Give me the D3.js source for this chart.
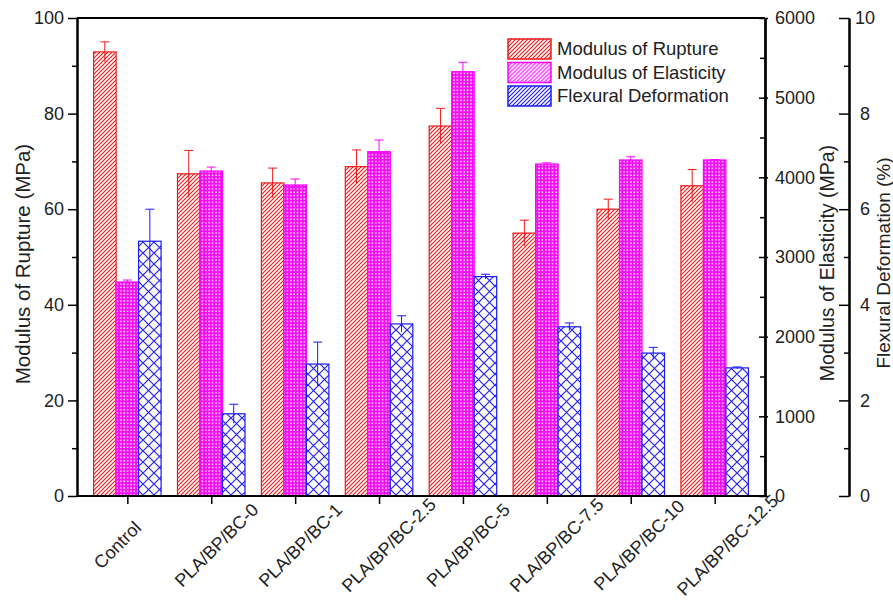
<!DOCTYPE html>
<html>
<head>
<meta charset="utf-8">
<script src="https://cdn.jsdelivr.net/npm/d3@7"></script>
<style>
	body { margin: 0; background: #fff; }
	svg { font-family: "Liberation Sans", Arial, sans-serif; }
</style>
</head>
<body>
<svg id="chart" width="893" height="602"></svg>
<script>
// data
var categories = ["Control", "PLA/BP/BC-0", "PLA/BP/BC-1", "PLA/BP/BC-2.5",
				  "PLA/BP/BC-5", "PLA/BP/BC-7.5", "PLA/BP/BC-10", "PLA/BP/BC-12.5"];
var rupture = [92.9, 67.4, 65.5, 68.9, 77.4, 55.0, 60.0, 64.9];
var ruptureErr = [2.1, 4.9, 3.1, 3.5, 3.7, 2.7, 2.1, 3.4];
var elasticity = [2686, 4079, 3904, 4322, 5326, 4167, 4218, 4218];
var elasticityErr = [25, 50, 75, 147, 118, 15, 40, 5];
var deformation = [5.33, 1.72, 2.76, 3.60, 4.59, 3.54, 2.99, 2.68];
var deformationErr = [0.67, 0.20, 0.46, 0.17, 0.05, 0.08, 0.12, 0.02];
var seriesNames = ["Modulus of Rupture", "Modulus of Elasticity", "Flexural Deformation"];
var ruptureTicks = [0, 20, 40, 60, 80, 100];
var elasticityTicks = [0, 1000, 2000, 3000, 4000, 5000, 6000];
var deformationTicks = [0, 2, 4, 6, 8, 10];

var margins = { top: 18, left: 77, right: 128, bottom: 106 };
var width = 893, height = 602;
var plotRight = width - margins.right;   // 765
var plotBottom = height - margins.bottom; // 496

var svg = d3.select("#chart");

// hatch patterns
var defs = svg.append("defs");
var hatch = (id, color) => {
	var p = defs.append("pattern").attr("id", id)
		.attr("patternUnits", "userSpaceOnUse")
		.attr("width", 4).attr("height", 4);
	p.append("rect").attr("width", 4).attr("height", 4).attr("fill", "#fff");
	p.append("path").attr("d", "M-1,1 l2,-2 M0,4 l4,-4 M3,5 l2,-2")
		.attr("stroke", color).attr("stroke-width", 1.1);
};
hatch("hatchRed", "#f01818");
hatch("hatchMag", "#ff00ff");
hatch("hatchBlue", "#1a1aff");

var dots = defs.append("pattern").attr("id", "dotsMag")
	.attr("patternUnits", "userSpaceOnUse")
	.attr("width", 3.4).attr("height", 3.4);
dots.append("rect").attr("width", 3.4).attr("height", 3.4).attr("fill", "#f20cf2");
dots.append("rect").attr("x", 1.1).attr("y", 1.1).attr("width", 1.5).attr("height", 1.5).attr("fill", "#ffe6ff");

var cross = defs.append("pattern").attr("id", "crossBlue")
	.attr("patternUnits", "userSpaceOnUse")
	.attr("width", 11).attr("height", 11);
cross.append("rect").attr("width", 11).attr("height", 11).attr("fill", "#fffdf2");
cross.append("path").attr("d", "M0,0 L11,11 M11,0 L0,11")
	.attr("stroke", "#2424ff").attr("stroke-width", 1.2);

// scales
var x = d3.scalePoint()
	.domain(categories)
	.range([margins.left, plotRight])
	.padding(0.6);

var sub = d3.scaleBand()
	.domain([0, 1, 2])
	.range([-33.75, 33.75]);

var yRupture = d3.scaleLinear().domain([0, 100]).range([plotBottom, margins.top]);
var yElastic = d3.scaleLinear().domain([0, 6000]).range([plotBottom, margins.top]);
var yDeform = d3.scaleLinear().domain([0, 10]).range([plotBottom, margins.top]);

var series = [
	{ values: rupture, errs: ruptureErr, y: yRupture, color: "#f01818", fill: "url(#hatchRed)", legend: "url(#hatchRed)" },
	{ values: elasticity, errs: elasticityErr, y: yElastic, color: "#ff00ff", fill: "url(#dotsMag)", legend: "url(#hatchMag)" },
	{ values: deformation, errs: deformationErr, y: yDeform, color: "#1a1aff", fill: "url(#crossBlue)", legend: "url(#hatchBlue)" }
];

// bars + error bars
series.forEach((s, si) => {
	var g = svg.append("g");
	g.selectAll("rect")
		.data(categories)
		.enter()
		.append("rect")
		.attr("x", (d) => x(d) + sub(si))
		.attr("y", (d, i) => s.y(s.values[i]))
		.attr("width", sub.bandwidth())
		.attr("height", (d, i) => plotBottom - s.y(s.values[i]))
		.attr("fill", s.fill)
		.attr("stroke", s.color)
		.attr("stroke-width", 1.2);

	var eb = svg.append("g").attr("stroke", s.color).attr("stroke-width", 1);
	eb.selectAll("line.v")
		.data(categories)
		.enter()
		.append("line")
		.attr("class", "v")
		.attr("x1", (d) => x(d) + sub(si) + sub.bandwidth() / 2)
		.attr("x2", (d) => x(d) + sub(si) + sub.bandwidth() / 2)
		.attr("y1", (d, i) => s.y(s.values[i] - s.errs[i]))
		.attr("y2", (d, i) => s.y(s.values[i] + s.errs[i]));
	eb.selectAll("line.cap")
		.data(categories)
		.enter()
		.append("line")
		.attr("class", "cap")
		.attr("x1", (d) => x(d) + sub(si) + sub.bandwidth() / 2 - 4.5)
		.attr("x2", (d) => x(d) + sub(si) + sub.bandwidth() / 2 + 4.5)
		.attr("y1", (d, i) => s.y(s.values[i] + s.errs[i]))
		.attr("y2", (d, i) => s.y(s.values[i] + s.errs[i]));
});

//
//	axes
//
var styleAxis = (g) => {
	g.select(".domain").attr("stroke", "#000").attr("stroke-width", 2);
	g.selectAll(".tick line").attr("stroke", "#000").attr("stroke-width", 1.5);
	g.selectAll(".tick text").attr("fill", "#222").style("font-size", "18px");
};

// minor ticks first, then major with labels
svg.append("g").attr("transform", `translate(${margins.left},0)`)
	.call(d3.axisLeft(yRupture).tickValues(d3.range(10, 100, 20)).tickSize(5).tickFormat("").tickSizeOuter(0))
	.call(styleAxis);
svg.append("g").attr("transform", `translate(${margins.left},0)`)
	.call(d3.axisLeft(yRupture).tickValues(ruptureTicks).tickSize(9).tickPadding(4).tickSizeOuter(0))
	.call(styleAxis);

svg.append("g").attr("transform", `translate(${plotRight},0)`)
	.call(d3.axisLeft(yElastic).tickValues(d3.range(500, 6000, 1000)).tickSize(5).tickFormat("").tickSizeOuter(0))
	.call(styleAxis);
svg.append("g").attr("transform", `translate(${plotRight},0)`)
	.call(d3.axisRight(yElastic).tickValues(elasticityTicks).tickSize(3).tickPadding(7).tickFormat(d3.format("d")).tickSizeOuter(0))
	.call(styleAxis);
svg.append("g").attr("transform", `translate(${plotRight},0)`)
	.call(d3.axisLeft(yElastic).tickValues(elasticityTicks).tickSize(6).tickFormat("").tickSizeOuter(0))
	.call(styleAxis);

var axis2X = 849;
svg.append("g").attr("transform", `translate(${axis2X},0)`)
	.call(d3.axisLeft(yDeform).tickValues(d3.range(1, 10, 2)).tickSize(5).tickFormat("").tickSizeOuter(0))
	.call(styleAxis);
var defAxis = svg.append("g").attr("transform", `translate(${axis2X},0)`)
	.call(d3.axisLeft(yDeform).tickValues(deformationTicks).tickSize(10).tickSizeOuter(0))
	.call(styleAxis);
defAxis.selectAll(".tick text").attr("text-anchor", "middle").attr("x", 16);

// top frame line
svg.append("g").attr("transform", `translate(0,${margins.top})`)
	.call(d3.axisTop(x).tickValues([]).tickSizeOuter(0))
	.call(styleAxis)
	.select(".domain").attr("d", `M${margins.left},0H${plotRight}`);

// bottom axis with rotated labels
var xAxis = svg.append("g").attr("transform", `translate(0,${plotBottom})`)
	.call(d3.axisBottom(x).tickSize(8).tickSizeOuter(0))
	.call(styleAxis);
xAxis.select(".domain").attr("d", `M${margins.left},0H${plotRight}`);
xAxis.selectAll(".tick text")
	.attr("text-anchor", "middle")
	.attr("y", 0).attr("dy", "0.35em")
	.each(function () {
		var len = this.getComputedTextLength();
		d3.select(this).attr("transform", `translate(${0.3 * len - 28},49) rotate(-45)`);
	});

// axis titles
var title = (txt, tx, ty, size) => svg.append("text")
	.attr("transform", `translate(${tx},${ty}) rotate(-90)`)
	.attr("text-anchor", "middle")
	.attr("dy", "0.35em")
	.style("font-size", size)
	.attr("fill", "#222")
	.text(txt);
title("Modulus of Rupture (MPa)", 23, 264, "20.5px");
title("Modulus of Elasticity (MPa)", 827, 263, "19.5px");
title("Flexural Deformation (%)", 883, 263, "19px");

//
//	legend
//
var legend = svg.append("g").attr("transform", "translate(508,39)");
var rows = legend.selectAll("g")
	.data(seriesNames)
	.enter()
	.append("g")
	.attr("transform", (d, i) => `translate(0,${i * 23.5})`);
rows.append("rect")
	.attr("width", 43).attr("height", 20)
	.attr("fill", (d, i) => series[i].legend)
	.attr("stroke", (d, i) => series[i].color)
	.attr("stroke-width", 1.5);
rows.append("text")
	.attr("x", 49).attr("y", 10).attr("dy", "0.35em")
	.style("font-size", "18.5px")
	.attr("fill", "#222")
	.text((d) => d);
</script>
</body>
</html>
